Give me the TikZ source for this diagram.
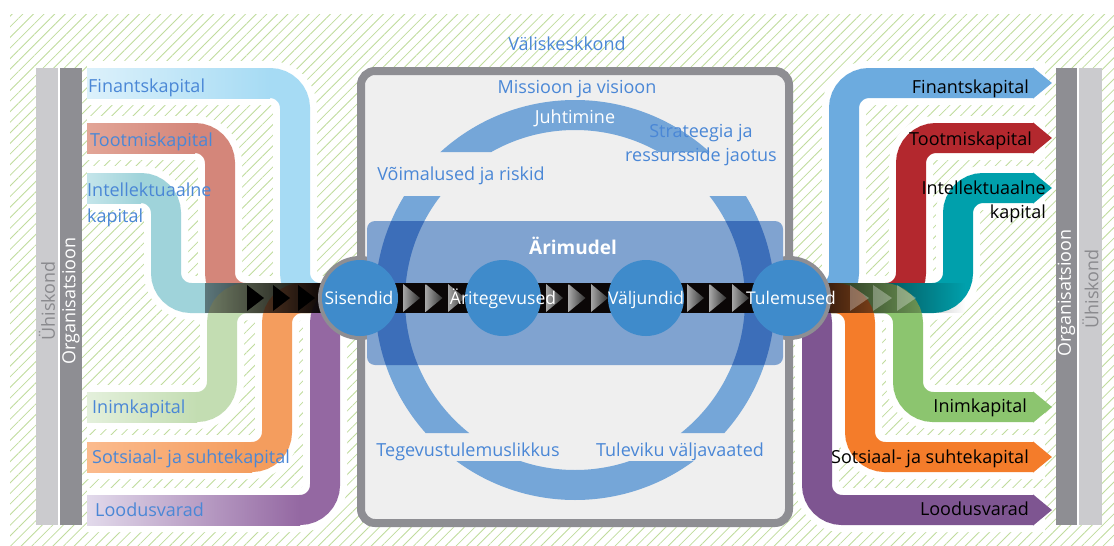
\documentclass[tikz,border=0pt]{standalone}
\usepackage{fontspec}
\setmainfont{Open Sans}
\usetikzlibrary{arrows.meta,patterns.meta,fadings}

\definecolor{hatchgreen}{HTML}{C0DC9C}
\definecolor{barlight}{HTML}{CBCBCE}
\definecolor{bardark}{HTML}{8E8E93}
\definecolor{bartextgray}{HTML}{8A8A8E}
\definecolor{txtblue}{HTML}{4A87D6}
\definecolor{boxfill}{HTML}{EFEFEF}
\definecolor{ringlight}{HTML}{75A6D8}
\definecolor{ringdark}{HTML}{3C6EB9}
\definecolor{modelfill}{HTML}{80A3D0}
\definecolor{stepblue}{HTML}{3F8BCB}
\definecolor{flowblack}{HTML}{0B0707}
\definecolor{finL}{HTML}{DCF1FB}\definecolor{finD}{HTML}{A6DBF4}
\definecolor{totL}{HTML}{E2A597}\definecolor{totD}{HTML}{D4867A}
\definecolor{intL}{HTML}{C4E5EA}\definecolor{intD}{HTML}{9FD3DA}
\definecolor{inmL}{HTML}{E4F0DC}\definecolor{inmD}{HTML}{C3DDB2}
\definecolor{sotL}{HTML}{FBBB8E}\definecolor{sotD}{HTML}{F49D5E}
\definecolor{looL}{HTML}{E2DAEB}\definecolor{looD}{HTML}{9468A2}
\definecolor{outfin}{HTML}{6CABDF}
\definecolor{outtot}{HTML}{B3282E}
\definecolor{outint}{HTML}{00A0AC}
\definecolor{outinm}{HTML}{8CC56F}
\definecolor{outsot}{HTML}{F47C2A}
\definecolor{outloo}{HTML}{7E5591}

\tikzfading[name=flowin,left color=transparent!55,right color=transparent!0]
\tikzfading[name=flowout,left color=transparent!0,middle color=transparent!0,right color=transparent!100]

\tikzset{
  halo/.style={white,line width=44pt,rounded corners=25pt},
  band/.style={line width=30pt,rounded corners=25pt},
  flowline/.style={flowblack,line width=30pt},
  bandtext/.style={font=\fontsize{18}{26}\selectfont,inner sep=0pt},
  intext/.style={bandtext,text=txtblue},
  outtext/.style={bandtext,text=black},
  bartext/.style={rotate=90,font=\fontsize{18}{20}\selectfont},
  chev/.style={left color=black!35,right color=black!80},
  stepdot/.style={circle,fill=stepblue,minimum size=76pt,inner sep=0pt},
  steplabel/.style={text=white,font=\fontsize{17.5}{20}\selectfont,inner sep=0pt,anchor=base},
}

\def\inbands{87/83/295/finL/finD, 87/138/220/totL/totD, 87/188/166/intL/intD,
  87/407/222/inmL/inmD, 87/457/277/sotL/sotD, 87/510/325/looL/looD}
\def\outbands{83/844/outfin, 138/911/outtot, 188/958/outint,
  407/908/outinm, 457/860/outsot, 510/817/outloo}

\begin{document}
\begin{tikzpicture}[x=1pt,y=-1pt]
\useasboundingbox (0,0) rectangle (1114,546);
\fill[white] (0,0) rectangle (1114,546);
\fill[pattern={Lines[angle=45,distance=7.5pt,line width=0.8pt]},pattern color=hatchgreen] (10,14) rectangle (1114,546);

% organisation and society bars
\fill[white] (36,68) rectangle (82,525);
\fill[barlight] (36,68) rectangle (57.5,525);
\fill[bardark] (60,68) rectangle (82,525);
\fill[white] (1056,68) rectangle (1102,525);
\fill[bardark] (1056,68) rectangle (1077,525);
\fill[barlight] (1079,68) rectangle (1102,525);
\node[bartext,text=bartextgray] (soc-l) at (47,301) {Ühiskond};
\node[bartext,text=white] (org-l) at (71,301) {Organisatsioon};
\node[bartext,text=white] (org-r) at (1066.5,293) {Organisatsioon};
\node[bartext,text=bartextgray] (soc-r) at (1090.5,289) {Ühiskond};

% capital bands
\foreach \xs/\y/\v/\cl/\cd in \inbands
  \draw[halo] (\xs,\y) -- (\v,\y) -- (\v,298) -- (360,298);
\foreach \y/\v/\c in \outbands
  \draw[halo] (790,298) -- (\v,298) -- (\v,\y) -- (1045,\y);
\foreach \xs/\y/\v/\cl/\cd in \inbands {
  \draw[band,draw=\cd] (\xs,\y) -- (\v,\y) -- (\v,298) -- (360,298);
  \shade[left color=\cl,right color=\cd] (\xs,\y-15) rectangle (\v-25,\y+15);
}
\foreach \y/\v/\c in \outbands
  \draw[band,draw=\c,-{Triangle[length=19pt,width=30pt]}] (790,298) -- (\v,298) -- (\v,\y) -- (1052,\y);

\fill[flowblack,path fading=flowin] (205,283) rectangle (325,313);
\foreach \x in {247,273,298}
  \fill[black] (\x,285) -- (\x+17,298) -- (\x,311) -- cycle;
\fill[flowblack,path fading=flowout] (790,283) rectangle (965,313);
\foreach \x in {850,873,897}
  \fill[white,opacity=.3] (\x,285) -- (\x+19,298) -- (\x,311) -- cycle;

% organisation box
\draw[draw=bardark,fill=boxfill,line width=8pt,rounded corners=14pt] (361,71) rectangle (789,523);
\coordinate (c-in) at (360,298);
\coordinate (c-act) at (503,298);
\coordinate (c-outp) at (646,298);
\coordinate (c-res) at (789,298);
\fill[bardark] (c-in) circle (42);
\fill[bardark] (c-res) circle (42);

\begin{scope}
  \clip (300,90) rectangle (850,152) (300,196) rectangle (850,433) (300,461) rectangle (850,510);
  \fill[ringlight,even odd rule] (575,300) circle (200) circle (170);
\end{scope}
\fill[modelfill,rounded corners=8pt] (367,221) rectangle (783,365);
\begin{scope}
  \clip[rounded corners=8pt] (367,221) rectangle (783,365);
  \fill[ringdark,even odd rule] (575,300) circle (200) circle (170);
\end{scope}

\draw[flowline] (c-in) -- (c-res);
\foreach \x in {403,425.5,448,546,568.5,591,687,709.5,732}
  \shade[chev] (\x,284) -- (\x+17,298) -- (\x,312) -- cycle;

\node[stepdot] (inputs) at (c-in) {};
\node[stepdot] (activities) at (c-act) {};
\node[stepdot] (outputs) at (c-outp) {};
\node[stepdot] (outcomes) at (c-res) {};
\node[steplabel] (inputs-t) at (359,304) {Sisendid};
\node[steplabel] (activities-t) at (503,304) {Äritegevused};
\node[steplabel] (outputs-t) at (646,304) {Väljundid};
\node[steplabel] (outcomes-t) at (791,304) {Tulemused};

% texts in the box
\node[intext,anchor=base] (env) at (567,50) {Väliskeskkond};
\node[intext,anchor=base] (mission) at (577,93) {Missioon ja visioon};
\node[bandtext,text=white,anchor=base] (gov) at (575,123) {Juhtimine};
\node[intext,anchor=base,align=center,font=\fontsize{18}{24}\selectfont] (strat) at (701,161) {Strateegia ja\\ressursside jaotus};
\node[intext,anchor=base] (risk) at (461,180) {Võimalused ja riskid};
\node[bandtext,text=white,anchor=base,font=\bfseries\fontsize{19}{22}\selectfont] (model) at (573,254) {Ärimudel};
\node[intext,anchor=base] (perf) at (468,456) {Tegevustulemuslikkus};
\node[intext,anchor=base] (outlook) at (680,456) {Tuleviku väljavaated};

% capital labels
\node[intext,anchor=base west] (fin-in) at (88,92) {Finantskapital};
\node[intext,anchor=base west] (tot-in) at (90,146) {Tootmiskapital};
\node[intext,anchor=base west,align=left] (int-in) at (87,222) {Intellektuaalne\\kapital};
\node[intext,anchor=base west] (inm-in) at (92,413) {Inimkapital};
\node[intext,anchor=base west] (sot-in) at (92,463) {Sotsiaal- ja suhtekapital};
\node[intext,anchor=base west] (loo-in) at (95,516) {Loodusvarad};
\node[outtext,anchor=base east] (fin-out) at (1029,93) {Finantskapital};
\node[outtext,anchor=base east] (tot-out) at (1032,145) {Tootmiskapital};
\node[outtext,anchor=base east,align=right,font=\fontsize{18}{24}\selectfont] (int-out) at (1046,218) {Intellektuaalne\\kapital};
\node[outtext,anchor=base east] (inm-out) at (1027,412) {Inimkapital};
\node[outtext,anchor=base east] (sot-out) at (1029,463) {Sotsiaal- ja suhtekapital};
\node[outtext,anchor=base east] (loo-out) at (1029,515) {Loodusvarad};
\end{tikzpicture}
\end{document}
